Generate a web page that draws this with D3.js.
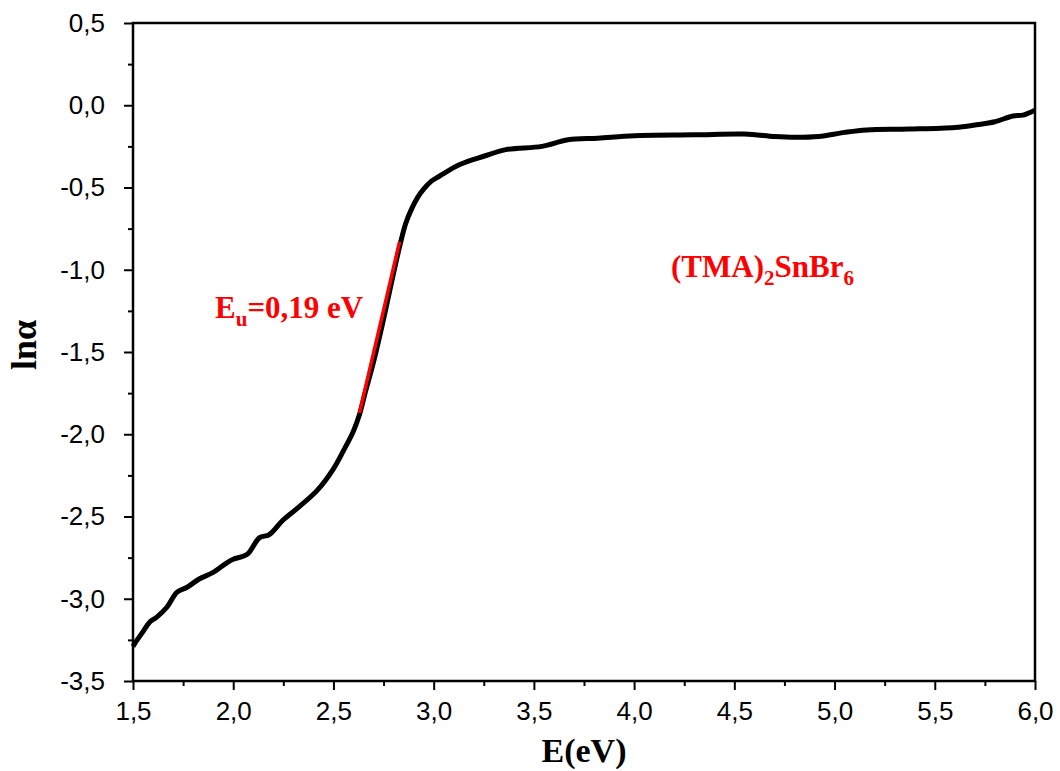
<!DOCTYPE html>
<html><head><meta charset="utf-8">
<script src="https://cdn.jsdelivr.net/npm/d3@7"></script>
<style>body{margin:0;background:#fff}</style>
</head><body>
<svg id="c" width="1060" height="771"></svg>
<script>
const energy = [1.50,1.51,1.55,1.585,1.62,1.67,1.72,1.77,1.83,1.90,1.97,2.00,2.07,2.13,2.18,2.25,2.33,2.42,2.50,2.55,2.60,2.63,2.66,2.70,2.75,2.80,2.83,2.86,2.89,2.92,2.95,2.99,3.03,3.13,3.25,3.36,3.54,3.67,3.82,4.00,4.30,4.55,4.70,4.80,4.92,5.05,5.16,5.37,5.60,5.70,5.80,5.89,5.94,6.00];
const lnAlpha = [-3.29,-3.27,-3.20,-3.14,-3.11,-3.05,-2.96,-2.93,-2.88,-2.84,-2.78,-2.76,-2.73,-2.63,-2.61,-2.52,-2.44,-2.34,-2.21,-2.10,-1.98,-1.88,-1.74,-1.56,-1.30,-1.02,-0.86,-0.72,-0.63,-0.56,-0.51,-0.46,-0.43,-0.36,-0.31,-0.27,-0.25,-0.21,-0.20,-0.185,-0.18,-0.175,-0.19,-0.195,-0.19,-0.165,-0.15,-0.145,-0.135,-0.12,-0.10,-0.065,-0.06,-0.03];
const fitE = [2.63, 2.83];
const fitLn = [-1.87, -0.83];
const xTicks = [1.5,2.0,2.5,3.0,3.5,4.0,4.5,5.0,5.5,6.0];
const yTicks = [0.5,0.0,-0.5,-1.0,-1.5,-2.0,-2.5,-3.0,-3.5];
const xMinor = [1.75,2.25,2.75,3.25,3.75,4.25,4.75,5.25,5.75];
const yMinor = [0.25,-0.25,-0.75,-1.25,-1.75,-2.25,-2.75,-3.25];

const svg = d3.select("#c");
const L=133, R=1035, T=23, B=681;
const x = d3.scaleLinear().domain([1.5,6.0]).range([L,R]);
const y = d3.scaleLinear().domain([-3.5,0.5]).range([B,T]);
const fmt = v => d3.format(".1f")(v).replace("−","-").replace(".",",");

const tickFont = "'Liberation Sans', Arial, sans-serif";

const xa = svg.append("g").attr("transform",`translate(0,${B})`)
  .call(d3.axisBottom(x).tickValues(xTicks).tickFormat(fmt).tickSize(9).tickPadding(12));
const xm = svg.append("g").attr("transform",`translate(0,${B})`)
  .call(d3.axisBottom(x).tickValues(xMinor).tickFormat("").tickSize(5));
const ya = svg.append("g").attr("transform",`translate(${L},0)`)
  .call(d3.axisLeft(y).tickValues(yTicks).tickFormat(fmt).tickSize(9).tickPadding(19));
const ym = svg.append("g").attr("transform",`translate(${L},0)`)
  .call(d3.axisLeft(y).tickValues(yMinor).tickFormat("").tickSize(5));
[xa,xm,ya,ym].forEach(g=>{
  g.selectAll("path").remove();
  g.selectAll("line").attr("stroke","#000").attr("stroke-width",2);
  g.selectAll("text").attr("font-family",tickFont).attr("font-size",26).attr("fill","#000");
});

// frame
svg.append("rect").attr("x",L).attr("y",T).attr("width",R-L).attr("height",B-T)
  .attr("fill","none").attr("stroke","#000").attr("stroke-width",2.5);

const data = energy.map((e,i)=>[e,lnAlpha[i]]);
svg.append("path").datum(data)
  .attr("d", d3.line().x(d=>x(d[0])).y(d=>y(d[1])).curve(d3.curveCatmullRom.alpha(0.5)))
  .attr("fill","none").attr("stroke","#000").attr("stroke-width",5).attr("stroke-linejoin","round");

svg.append("path").datum(fitE.map((e,i)=>[e,fitLn[i]]))
  .attr("d", d3.line().x(d=>x(d[0])).y(d=>y(d[1])))
  .attr("fill","none").attr("stroke","#ff0000").attr("stroke-width",3.5);

const serif = "'Liberation Serif', 'Times New Roman', serif";
svg.append("text").attr("x",(L+R)/2).attr("y",762).attr("text-anchor","middle")
  .attr("font-family",serif).attr("font-weight","bold").attr("font-size",34).text("E(eV)");
svg.append("text").attr("transform","translate(36,345) rotate(-90)").attr("text-anchor","middle")
  .attr("font-family",serif).attr("font-weight","bold").attr("font-size",36).text("lnα");

const a1 = svg.append("text").attr("x",215).attr("y",318)
  .attr("font-family",serif).attr("font-weight","bold").attr("font-size",31).attr("fill","#ff0000");
a1.append("tspan").text("E");
a1.append("tspan").attr("font-size",21).attr("dy",8).text("u");
a1.append("tspan").attr("dy",-8).text("=0,19 eV");

const a2 = svg.append("text").attr("x",671).attr("y",277)
  .attr("font-family",serif).attr("font-weight","bold").attr("font-size",31).attr("fill","#ff0000");
a2.append("tspan").text("(TMA)");
a2.append("tspan").attr("font-size",21).attr("dy",8).text("2");
a2.append("tspan").attr("dy",-8).text("SnBr");
a2.append("tspan").attr("font-size",21).attr("dy",8).text("6");
</script>
</body></html>
